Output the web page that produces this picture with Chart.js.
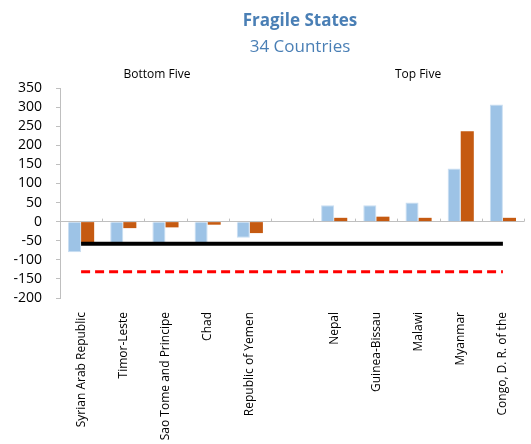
<!DOCTYPE html>
<html>
<head>
<meta charset="utf-8">
<script src="https://cdn.jsdelivr.net/npm/chart.js@4.4.1/dist/chart.umd.min.js"></script>
<style>
  html, body { margin: 0; padding: 0; background: #fff; }
  #wrap { width: 531px; height: 444px; }
</style>
</head>
<body>
<div id="wrap"><canvas id="fragileChart"></canvas></div>
<script>
// categories: bottom five, an empty spacer, top five
const countries = ['Syrian Arab Republic', 'Timor-Leste', 'Sao Tome and Principe', 'Chad', 'Republic of Yemen', '',
  'Nepal', 'Guinea-Bissau', 'Malawi', 'Myanmar', 'Congo, D. R. of the'];
const seriesBlue = [-80, -58, -58, -58, -42, null, 43, 43, 50, 139, 307];
const seriesOrange = [-58, -17, -15, -8, -30, null, 10, 13, 10, 237, 10];
const blackLine = [-58, -58, -58, -58, -58, -58, -58, -58, -58, -58, -58];
const redLine = [-131, -131, -131, -131, -131, -131, -131, -131, -131, -131, -131];
const yMin = -200, yMax = 350, yStep = 50;

const titleText = 'Fragile States';
const subtitleText = '34 Countries';
const groupLabels = ['Bottom Five', 'Top Five'];

const FONT = '"Open Sans", "Noto Sans", sans-serif';
const AXIS_GREY = '#bfbfbf';

const textPlugin = {
  id: 'textPlugin',
  afterDraw(chart) {
    const { ctx, scales: { x, y } } = chart;
    ctx.save();
    // tick marks on the zero line between categories
    const zeroY = y.getPixelForValue(0);
    const w = x.width / countries.length;
    ctx.strokeStyle = AXIS_GREY;
    ctx.lineWidth = 1;
    for (let i = 1; i <= countries.length; i++) {
      const px = Math.round(x.left + i * w) + 0.5;
      ctx.beginPath();
      ctx.moveTo(px, zeroY - 3);
      ctx.lineTo(px, zeroY);
      ctx.stroke();
    }

    ctx.textAlign = 'center';
    ctx.textBaseline = 'middle';
    ctx.fillStyle = '#4a7fb5';
    ctx.font = 'bold 17px ' + FONT;
    ctx.fillText(titleText, 300, 21);
    ctx.font = '17px ' + FONT;
    ctx.fillText(subtitleText, 300, 47);

    ctx.fillStyle = '#000';
    ctx.font = '12px ' + FONT;
    ctx.fillText(groupLabels[0], 157, 75);
    ctx.fillText(groupLabels[1], 418, 75);
    ctx.restore();
  }
};

new Chart(document.getElementById('fragileChart'), {
  type: 'bar',
  data: {
    labels: countries,
    datasets: [
      {
        type: 'line',
        data: blackLine,
        borderColor: '#000',
        borderWidth: 4,
        pointRadius: 0,
        fill: false,
        order: 0
      },
      {
        type: 'line',
        data: redLine,
        borderColor: '#ff0000',
        borderWidth: 3,
        borderDash: [9, 5],
        pointRadius: 0,
        fill: false,
        order: 0
      },
      {
        data: seriesBlue,
        backgroundColor: '#9dc3e6',
        borderColor: '#c9def2',
        borderWidth: 1,
        categoryPercentage: 0.62,
        barPercentage: 1,
        order: 1
      },
      {
        data: seriesOrange,
        backgroundColor: '#c55a11',
        categoryPercentage: 0.62,
        barPercentage: 1,
        order: 1
      }
    ]
  },
  options: {
    responsive: true,
    maintainAspectRatio: false,
    animation: false,
    layout: { padding: { top: 88, right: 7, left: 0, bottom: 0 } },
    plugins: {
      legend: { display: false },
      tooltip: { enabled: false }
    },
    scales: {
      x: {
        grid: { display: false },
        border: { display: false },
        ticks: {
          color: '#000',
          font: { family: FONT, size: 12 },
          maxRotation: 90,
          minRotation: 90,
          autoSkip: false,
          padding: 6
        },
        afterFit(scale) { scale.height = 146; }
      },
      y: {
        min: yMin,
        max: yMax,
        ticks: {
          stepSize: yStep,
          autoSkip: false,
          color: '#000',
          font: { family: FONT, size: 14 },
          padding: 14
        },
        border: { display: true, color: AXIS_GREY },
        grid: {
          drawTicks: true,
          tickLength: 4,
          tickColor: AXIS_GREY,
          color: ctx => (ctx.tick && ctx.tick.value === 0 ? AXIS_GREY : 'rgba(0,0,0,0)')
        },
        afterFit(scale) { scale.width = 60; }
      }
    }
  },
  plugins: [textPlugin]
});
</script>
</body>
</html>
